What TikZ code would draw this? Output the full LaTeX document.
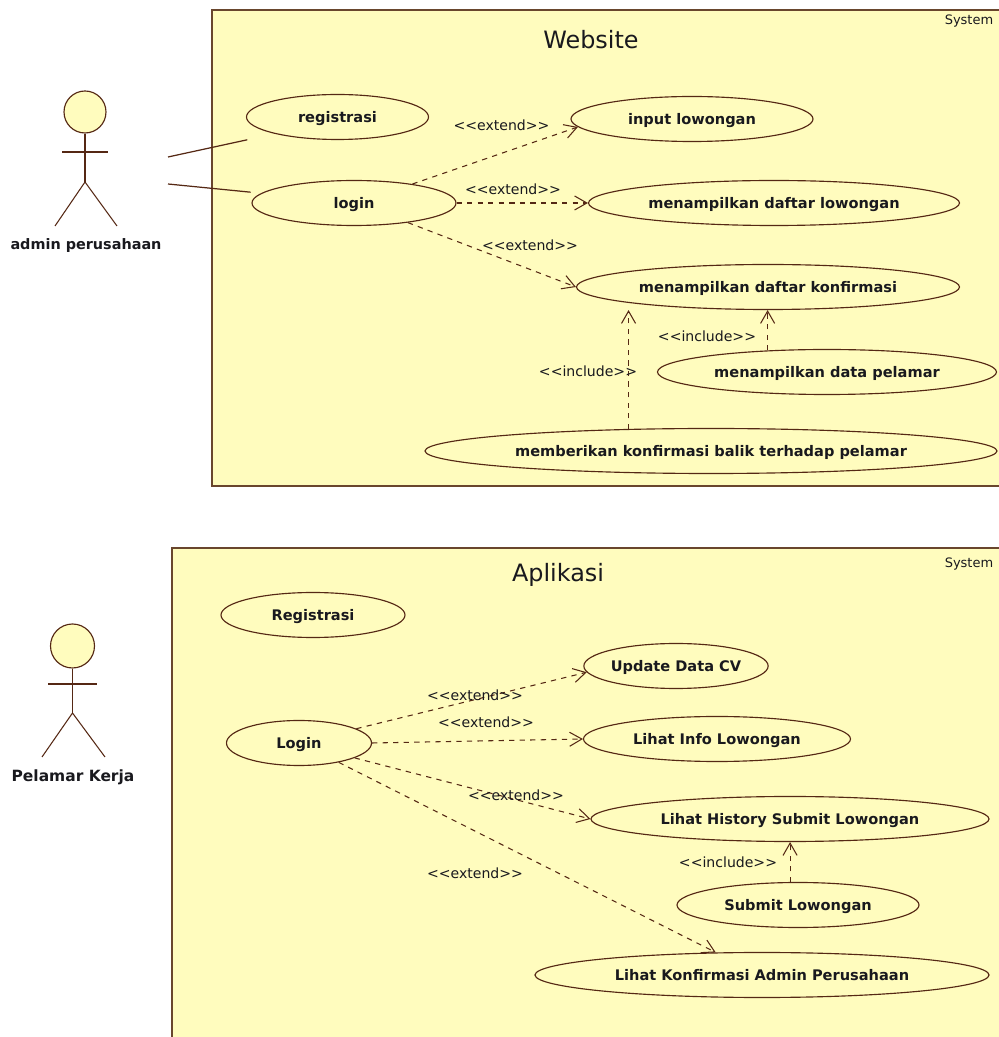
\documentclass[tikz,border=0pt]{standalone}
\usepackage{fontspec}
\setmainfont{DejaVu Sans}
\usepackage{tikz}
\usetikzlibrary{shapes.geometric,arrows.meta}
\definecolor{umlfill}{RGB}{255,252,190}
\definecolor{umlline}{RGB}{85,40,20}
\definecolor{umlframe}{RGB}{105,70,45}
\definecolor{umltext}{RGB}{25,25,30}
\newcommand{\extendtag}{{<}{<}extend{>}{>}}
\newcommand{\includetag}{{<}{<}include{>}{>}}
\tikzset{
  usecase/.style={draw=umlline,fill=umlfill,ellipse,inner sep=0pt,line width=0.65pt,minimum height=0.9cm,text height=6pt,text depth=0pt,font=\fontsize{8.3}{10}\selectfont\bfseries,text=umltext},
  rel/.style={draw=umlline,dashed,line width=0.6pt,-{Straight Barb[length=7pt,width=8pt]}},
  assoc/.style={draw=umlline,line width=0.7pt},
  stick/.style={draw=umlline,line width=0.6pt},
  head/.style={draw=umlline,fill=umlfill,circle,inner sep=0pt,line width=0.65pt},
  tag/.style={inner sep=0pt,font=\fontsize{8}{9}\selectfont,text=umltext},
  systag/.style={inner sep=0pt,font=\fontsize{7.4}{9}\selectfont,text=umltext},
  actorname/.style={inner sep=0pt,font=\fontsize{8.2}{10}\selectfont\bfseries,text=umltext},
  title/.style={inner sep=0pt,font=\fontsize{13.6}{16}\selectfont,text=umltext},
  sysbox/.style={draw=umlframe,fill=umlfill,line width=0.8pt}
}
\begin{document}
\begin{tikzpicture}
\useasboundingbox (0,0) rectangle (19.96,20.74);
\draw[sysbox] (4.24,11.02) rectangle (20.1,20.54);
\draw[sysbox] (3.44,-0.1) rectangle (20.1,9.78);

\node (t1) at (11.82,19.94) [title] {Website};
\node (t2) at (11.16,9.24) [title] {Aplikasi};
\node (s1) at (19.38,20.32) [systag] {System};
\node (s2) at (19.38,9.46) [systag] {System};

% website
\node (u1) at (6.75,18.40) [usecase,minimum width=3.64cm] {registrasi};
\node (u2) at (7.08,16.68) [usecase,minimum width=4.08cm] {login};
\node (u3) at (13.84,18.36) [usecase,minimum width=4.84cm] {input lowongan};
\node (u4) at (15.48,16.68) [usecase,minimum width=7.42cm] {menampilkan daftar lowongan};
\node (u5) at (15.36,15.00) [usecase,minimum width=7.66cm] {menampilkan daftar konfirmasi};
\node (u6) at (16.54,13.30) [usecase,minimum width=6.78cm] {menampilkan data pelamar};
\node (u7) at (14.22,11.72) [usecase,minimum width=11.44cm] {memberikan konfirmasi balik terhadap pelamar};

% aplikasi
\node (a1) at (6.26,8.44) [usecase,minimum width=3.68cm] {Registrasi};
\node (a2) at (5.98,5.88) [usecase,minimum width=2.90cm] {Login};
\node (a3) at (13.52,7.42) [usecase,minimum width=3.68cm] {Update Data CV};
\node (a4) at (14.34,5.96) [usecase,minimum width=5.34cm] {Lihat Info Lowongan};
\node (a5) at (15.80,4.36) [usecase,minimum width=7.96cm] {Lihat History Submit Lowongan};
\node (a6) at (15.96,2.64) [usecase,minimum width=4.84cm] {Submit Lowongan};
\node (a7) at (15.24,1.24) [usecase,minimum width=9.08cm] {Lihat Konfirmasi Admin Perusahaan};

% actors
\node (h1) at (1.70,18.50) [head,minimum size=0.84cm] {};
\coordinate (b1) at (1.70,17.10);
\coordinate (al1) at (1.24,17.70);
\coordinate (ar1) at (2.16,17.70);
\coordinate (fl1) at (1.10,16.22);
\coordinate (fr1) at (2.34,16.22);
\draw[stick] (h1.south) -- (b1);
\draw[stick] (al1) -- (ar1);
\draw[stick] (fl1) -- (b1) -- (fr1);
\node (n1) at (1.72,15.82) [actorname] {admin perusahaan};

\node (h2) at (1.45,7.82) [head,minimum size=0.88cm] {};
\coordinate (b2) at (1.45,6.48);
\coordinate (al2) at (0.96,7.06);
\coordinate (ar2) at (1.94,7.06);
\coordinate (fl2) at (0.84,5.60);
\coordinate (fr2) at (2.10,5.60);
\draw[stick] (h2.south) -- (b2);
\draw[stick] (al2) -- (ar2);
\draw[stick] (fl2) -- (b2) -- (fr2);
\node (n2) at (1.46,5.20) [actorname,font=\fontsize{8.8}{10}\selectfont\bfseries] {Pelamar Kerja};

% actor links
\coordinate (c1) at (3.36,17.60);
\coordinate (c2) at (3.36,17.06);
\draw[assoc,shorten >=16pt] (c1) -- (u1.195);
\draw[assoc,shorten >=6pt] (c2) -- (u2.174);

% website relations
\draw[rel] (u2.18) -- (u3.184);
\draw[rel] (u2.east) -- (u4.west);
\draw[rel] (u2.-20) -- (u5.west);
\draw[rel] (u7.165) -- (u7.165 |- u5.south);
\draw[rel] (u6.160) -- (u6.160 |- u5.south);

\node (e1) at (10.03,18.24) [tag] {\extendtag};
\node (e2) at (10.26,16.96) [tag] {\extendtag};
\node (e3) at (10.60,15.84) [tag] {\extendtag};
\node (i1) at (14.14,14.02) [tag] {\includetag};
\node (i2) at (11.76,13.32) [tag] {\includetag};

% aplikasi relations
\draw[rel] (a2.14) -- (a3.184);
\draw[rel] (a2.east) -- (a4.west);
\draw[rel] (a2.-15) -- (a5.west);
\draw[rel] (a2.-26) -- (a7.154);
\draw[rel] (a6.109) -- (a6.109 |- a5.south);

\node (e4) at (9.50,6.84) [tag] {\extendtag};
\node (e5) at (9.72,6.30) [tag] {\extendtag};
\node (e6) at (10.32,4.84) [tag] {\extendtag};
\node (e7) at (9.50,3.28) [tag] {\extendtag};
\node (i3) at (14.56,3.50) [tag] {\includetag};
\end{tikzpicture}
\end{document}
